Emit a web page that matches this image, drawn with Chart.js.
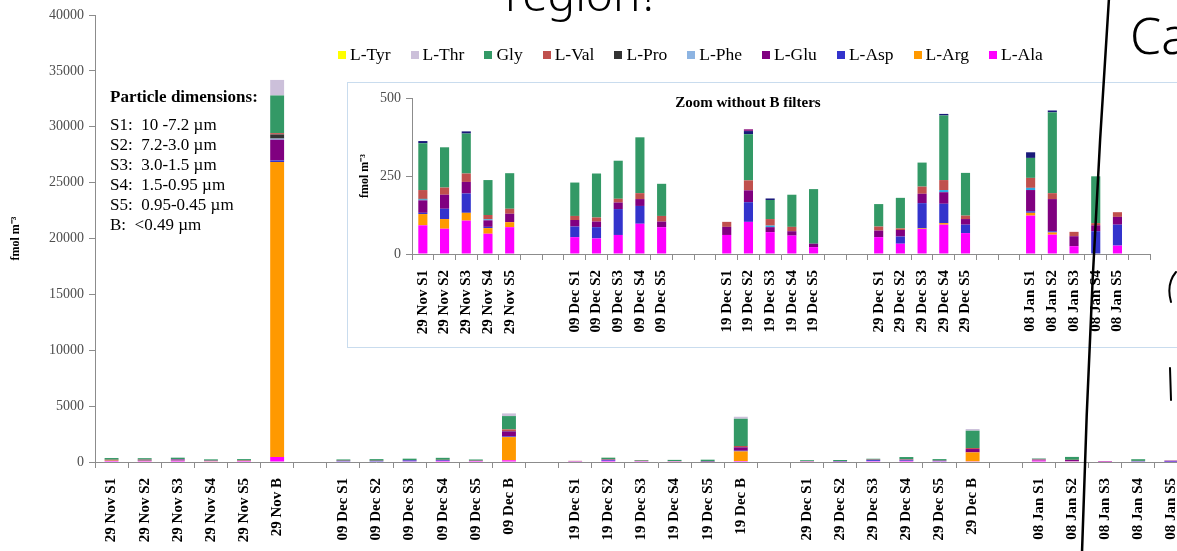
<!DOCTYPE html>
<html>
<head>
<meta charset="utf-8">
<script src="https://cdn.jsdelivr.net/npm/chart.js@4/dist/chart.umd.min.js"></script>
<style>
  body { margin: 0; background: #fff; overflow: hidden; }
  #page { position: relative; width: 1177px; height: 551px; overflow: hidden; font-family: 'Liberation Serif', serif; }
  #mainChart { position: absolute; left: 0; top: 0; }
  #insetBox { position: absolute; left: 347px; top: 82px; width: 900px; height: 266px; box-sizing: border-box; border: 1px solid #c9dcee; background: #fff; }
  #insetChart { position: absolute; left: 0; top: 0; }
  #insetTitle { position: absolute; left: 600px; top: 94px; width: 296px; text-align: center; font-weight: bold; font-size: 15px; }
  #dims { position: absolute; left: 110px; top: 87px; font-size: 17px; line-height: 20px; white-space: pre; }
  #dims b { display: block; margin-bottom: 8px; }
  #legend { position: absolute; left: 338px; top: 44px; display: flex; gap: 20px; font-size: 17.5px; }
  #legend span { display: flex; align-items: center; }
  #legend i { display: inline-block; width: 8px; height: 8px; margin-right: 4px; }
  #notes { position: absolute; left: 0; top: 0; pointer-events: none; }
</style>
</head>
<body>
<div id="page">
  <canvas id="mainChart" width="1240" height="551"></canvas>
  <div id="dims"></div>
  <div id="legend"></div>
  <div id="insetBox"><canvas id="insetChart" width="898" height="264"></canvas></div>
  <div id="insetTitle">Zoom without B filters</div>
  <canvas id="notes" width="1177" height="551"></canvas>
</div>
<script>
// categories (blank entries are the gaps between sampling dates)
const labels = [
    "29 Nov S1", "29 Nov S2", "29 Nov S3", "29 Nov S4", "29 Nov S5", "29 Nov B", "",
    "09 Dec S1", "09 Dec S2", "09 Dec S3", "09 Dec S4", "09 Dec S5", "09 Dec B", "",
    "19 Dec S1", "19 Dec S2", "19 Dec S3", "19 Dec S4", "19 Dec S5", "19 Dec B", "",
    "29 Dec S1", "29 Dec S2", "29 Dec S3", "29 Dec S4", "29 Dec S5", "29 Dec B", "",
    "08 Jan S1", "08 Jan S2", "08 Jan S3", "08 Jan S4", "08 Jan S5", "08 Jan B"
];

// amino acid concentrations, fmol m-3 (stacked bottom to top)
const ala = [92, 81, 107, 65, 86, 450, null, 54, 50, 61, 97, 86, 150, null, 61, 103, 70, 59, 22, 90, null, 54, 33, 80, 94, 67, 60, null, 123, 62, 25, 0, 27, null];
const arg = [36, 31, 25, 18, 16, 26390, null, 0, 0, 0, 0, 0, 2080, null, 0, 0, 0, 0, 0, 860, null, 0, 0, 2, 5, 0, 800, null, 9, 7, 0, 0, 0, null];
const asp = [4, 33, 62, 4, 0, 150, null, 34, 36, 83, 57, 0, 60, null, 0, 63, 0, 0, 0, 60, null, 0, 23, 81, 62, 27, 0, null, 5, 4, 0, 73, 67, null];
const glu = [40, 45, 37, 21, 27, 1850, null, 21, 18, 21, 22, 18, 450, null, 26, 38, 16, 14, 11, 300, null, 21, 21, 30, 37, 18, 300, null, 68, 103, 32, 19, 25, null];
const phe = [3, 0, 0, 3, 0, 100, null, 0, 0, 0, 0, 0, 0, null, 0, 0, 5, 0, 0, 0, null, 0, 0, 0, 7, 0, 0, null, 7, 0, 0, 0, 0, null];
const pro = [2, 0, 0, 0, 0, 370, null, 0, 0, 0, 0, 0, 30, null, 0, 0, 0, 0, 0, 30, null, 0, 0, 0, 0, 0, 0, null, 0, 0, 0, 0, 0, null];
const val = [28, 23, 27, 14, 16, 120, null, 13, 13, 12, 19, 18, 150, null, 16, 32, 21, 14, 0, 90, null, 13, 5, 23, 32, 11, 90, null, 32, 19, 14, 7, 15, null];
const gly = [150, 129, 128, 112, 114, 3370, null, 107, 141, 122, 179, 103, 1190, null, 0, 148, 61, 103, 175, 2440, null, 72, 98, 77, 207, 137, 1550, null, 64, 259, 0, 150, 0, null];
const thr = [7, 0, 7, 0, 0, 1390, null, 0, 0, 0, 0, 0, 240, null, 0, 10, 5, 0, 0, 180, null, 0, 0, 0, 5, 0, 150, null, 18, 6, 0, 0, 0, null];
const tyr = [0, 0, 0, 0, 0, 0, null, 0, 0, 0, 0, 0, 0, null, 0, 6, 0, 0, 0, 0, null, 0, 0, 0, 0, 0, 0, null, 0, 0, 0, 0, 0, null];

const yTicksMain = [0, 5000, 10000, 15000, 20000, 25000, 30000, 35000, 40000];
const yTicksInset = [0, 250, 500];

const series = [
    { name: "L-Ala", data: ala, color: "#FF00FF", inset: "#FF00FF" },
    { name: "L-Arg", data: arg, color: "#FF9900", inset: "#FF9900" },
    { name: "L-Asp", data: asp, color: "#3333CC", inset: "#3333CC" },
    { name: "L-Glu", data: glu, color: "#800080", inset: "#800080" },
    { name: "L-Phe", data: phe, color: "#8DB4E2", inset: "#2EA8E0" },
    { name: "L-Pro", data: pro, color: "#333333", inset: "#333333" },
    { name: "L-Val", data: val, color: "#C0504D", inset: "#C0504D" },
    { name: "Gly", data: gly, color: "#339966", inset: "#339966" },
    { name: "L-Thr", data: thr, color: "#CCC0DA", inset: "#1A1A7A" },
    { name: "L-Tyr", data: tyr, color: "#FFFF00", inset: "#9A2C8C" },
];

const dims = [
    "S1:  10 -7.2 \u00b5m",
    "S2:  7.2-3.0 \u00b5m",
    "S3:  3.0-1.5 \u00b5m",
    "S4:  1.5-0.95 \u00b5m",
    "S5:  0.95-0.45 \u00b5m",
    "B:  <0.49 \u00b5m"
];

Chart.defaults.font.family = "'Liberation Serif', serif";
Chart.defaults.color = "#000";

// text blocks
document.getElementById("dims").innerHTML =
    "<b>Particle dimensions:</b>" + dims.map(d => d.replace("<", "&lt;")).join("\n");

const legendEl = document.getElementById("legend");
series.slice().reverse().forEach(s => {
    const item = document.createElement("span");
    item.innerHTML = '<i style="background:' + s.color + '"></i>' + s.name;
    legendEl.appendChild(item);
});

function axisGrid() {
    return { display: true, drawOnChartArea: false, drawTicks: true, tickLength: 6, color: "#8c8c8c" };
}

function xAxis(height) {
    return {
        stacked: true,
        grid: axisGrid(),
        border: { color: "#8c8c8c" },
        ticks: { autoSkip: false, minRotation: 90, maxRotation: 90, padding: 10,
                 font: { size: 15, weight: "bold" }, color: "#000" },
        afterFit: (scale) => { scale.height = height; },
    };
}

function yAxis(max, tickValues, width, titlePad) {
    return {
        stacked: true,
        min: 0,
        max: max,
        grid: axisGrid(),
        border: { color: "#8c8c8c" },
        afterBuildTicks: (scale) => { scale.ticks = tickValues.map(v => ({ value: v })); },
        ticks: { padding: 5, font: { size: 14 }, color: "#4d4d4d", callback: (v) => String(v) },
        title: { display: true, text: "fmol m\u207b\u00b3", font: { size: 12, weight: "bold" },
                 padding: { top: titlePad, bottom: 0 } },
        afterFit: (scale) => { scale.width = width; },
    };
}

// main chart
const mainCtx = document.getElementById("mainChart").getContext("2d");
const mainChart = new Chart(mainCtx, {
    type: "bar",
    data: {
        labels: labels,
        datasets: series.map(s => ({
            label: s.name,
            data: s.data,
            backgroundColor: s.color,
            borderWidth: 0,
            barPercentage: 0.42,
            categoryPercentage: 1,
        })),
    },
    options: {
        responsive: false,
        animation: false,
        layout: { padding: { top: 15, left: 0, right: 19, bottom: 0 } },
        plugins: { legend: { display: false }, tooltip: { enabled: false } },
        scales: {
            x: xAxis(89),
            y: yAxis(40000, yTicksMain, 95, 9),
        },
    },
});

// inset chart, same data without the B filters
const isB = labels.map(l => l.endsWith(" B"));
const insetCtx = document.getElementById("insetChart").getContext("2d");
const insetChart = new Chart(insetCtx, {
    type: "bar",
    data: {
        labels: labels.map((l, i) => isB[i] ? "" : l),
        datasets: series.map(s => ({
            label: s.name,
            data: s.data.map((v, i) => isB[i] ? null : v),
            backgroundColor: s.inset,
            borderWidth: 0,
            barPercentage: 0.42,
            categoryPercentage: 1,
        })),
    },
    options: {
        responsive: false,
        animation: false,
        layout: { padding: { top: 15, left: 0, right: 96, bottom: 0 } },
        plugins: { legend: { display: false }, tooltip: { enabled: false } },
        scales: {
            x: xAxis(93),
            y: yAxis(500, yTicksInset, 64, 10),
        },
    },
});

// hand-written marks drawn over the figure
const nctx = document.getElementById("notes").getContext("2d");
nctx.strokeStyle = "#000";
nctx.lineWidth = 2.5;
nctx.lineCap = "round";
nctx.beginPath();
nctx.moveTo(1109, -2);
nctx.quadraticCurveTo(1090, 280, 1082, 553);
nctx.stroke();
nctx.lineWidth = 2;
nctx.beginPath();
nctx.moveTo(1176, 272);
nctx.quadraticCurveTo(1166, 284, 1171, 302);
nctx.stroke();
nctx.beginPath();
nctx.moveTo(1170, 368);
nctx.lineTo(1171, 400);
nctx.stroke();
nctx.fillStyle = "#000";
nctx.font = "300 50px 'Noto Sans', sans-serif";
nctx.fillText("Ca", 1130, 54);
nctx.font = "300 46px 'Noto Sans', sans-serif";
nctx.textBaseline = "alphabetic";
nctx.fillText("region?", 505, 11);
</script>
</body>
</html>
